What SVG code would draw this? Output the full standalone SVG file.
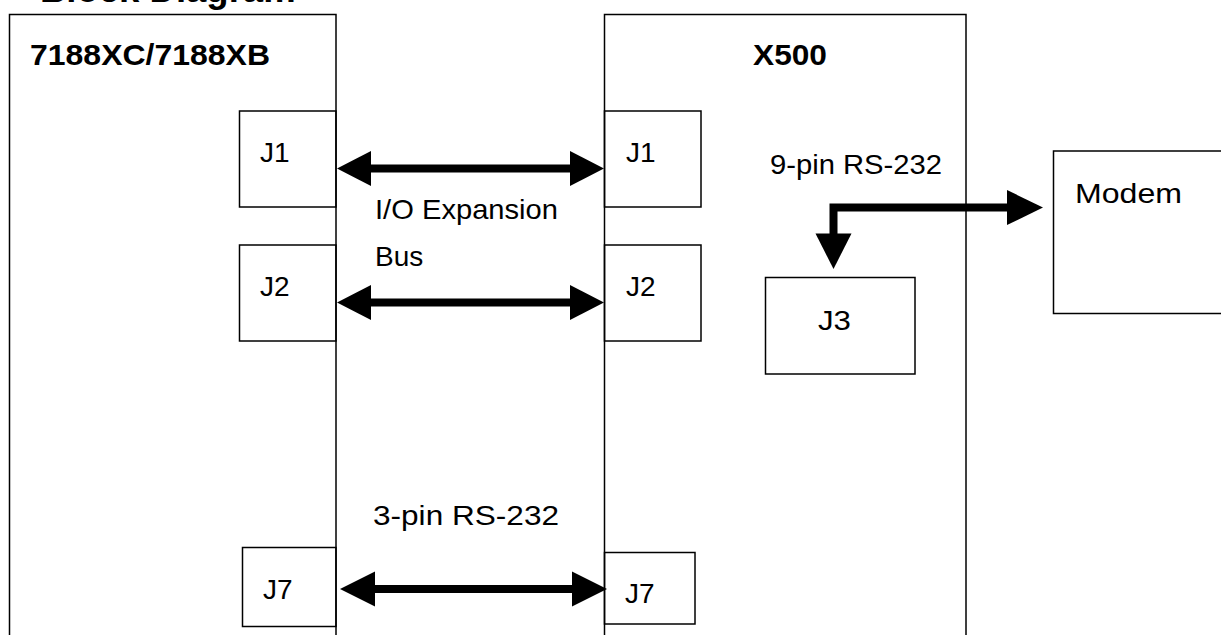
<svg xmlns="http://www.w3.org/2000/svg" width="1221" height="635" viewBox="0 0 1221 635">
<style>
.box{fill:none;stroke:#000;stroke-width:1.5}
.t{font-family:"Liberation Sans",Arial,sans-serif;font-size:28px;fill:#000}
.b{font-family:"Liberation Sans",Arial,sans-serif;font-size:30px;font-weight:bold;fill:#000}
.shaft{stroke:#000;stroke-width:8;fill:none}
.head{fill:#000}
</style>
<rect width="1221" height="635" fill="#fff"/>
<text class="b" x="40" y="2" style="font-size:36.5px">Block Diagram</text>
<g id="host">
<rect class="box" x="9.5" y="14.5" width="326.5" height="640"/>
<text class="b" x="30" y="65" textLength="240" lengthAdjust="spacingAndGlyphs">7188XC/7188XB</text>
</g>
<g id="x500">
<rect class="box" x="604.5" y="14.5" width="361.5" height="640"/>
<text class="b" x="753" y="65" textLength="74" lengthAdjust="spacingAndGlyphs">X500</text>
</g>
<g id="hostJ1"><rect class="box" x="239.5" y="111" width="96.5" height="96"/><text class="t" x="260" y="162">J1</text></g>
<g id="hostJ2"><rect class="box" x="239.5" y="245" width="96.5" height="96"/><text class="t" x="260" y="296">J2</text></g>
<g id="hostJ7"><rect class="box" x="242.5" y="547.5" width="93.5" height="79"/><text class="t" x="263" y="599">J7</text></g>
<g id="x500J1"><rect class="box" x="604.5" y="111" width="96.5" height="96"/><text class="t" x="626" y="162">J1</text></g>
<g id="x500J2"><rect class="box" x="604.5" y="245" width="96.5" height="96"/><text class="t" x="626" y="296">J2</text></g>
<g id="x500J7"><rect class="box" x="604.5" y="552.5" width="90.5" height="71.5"/><text class="t" x="625" y="603">J7</text></g>
<g id="x500J3"><rect class="box" x="765.5" y="277.5" width="149.5" height="96.5"/><text class="t" x="818" y="330" textLength="33" lengthAdjust="spacingAndGlyphs">J3</text></g>
<g id="modem"><rect class="box" x="1053.5" y="151" width="200" height="162.5"/><text class="t" x="1075" y="203" textLength="107" lengthAdjust="spacingAndGlyphs">Modem</text></g>
<g id="connectors">
<line class="shaft" x1="370" y1="168.5" x2="572" y2="168.5"/>
<polygon class="head" points="337,168.5 371,151 371,186"/>
<polygon class="head" points="604,168.5 570,151 570,186"/>
<line class="shaft" x1="370" y1="302.5" x2="572" y2="302.5"/>
<polygon class="head" points="337,302.5 371,285 371,320"/>
<polygon class="head" points="604,302.5 570,285 570,320"/>
<line class="shaft" x1="373" y1="589" x2="574" y2="589"/>
<polygon class="head" points="340,589 375,571.5 375,606.5"/>
<polygon class="head" points="607,589 572,571.5 572,606.5"/>
<polyline class="shaft" points="833.5,236 833.5,207.5 1009,207.5" stroke-linejoin="miter"/>
<polygon class="head" points="1043,207.5 1007,190 1007,225"/>
<polygon class="head" points="833.5,269 815.5,233.5 851.5,233.5"/>
</g>
<text class="t" x="375" y="219" textLength="183" lengthAdjust="spacingAndGlyphs">I/O Expansion</text>
<text class="t" x="375" y="266">Bus</text>
<text class="t" x="770" y="174" textLength="172" lengthAdjust="spacingAndGlyphs">9-pin RS-232</text>
<text class="t" x="373" y="525" textLength="186" lengthAdjust="spacingAndGlyphs">3-pin RS-232</text>
</svg>
